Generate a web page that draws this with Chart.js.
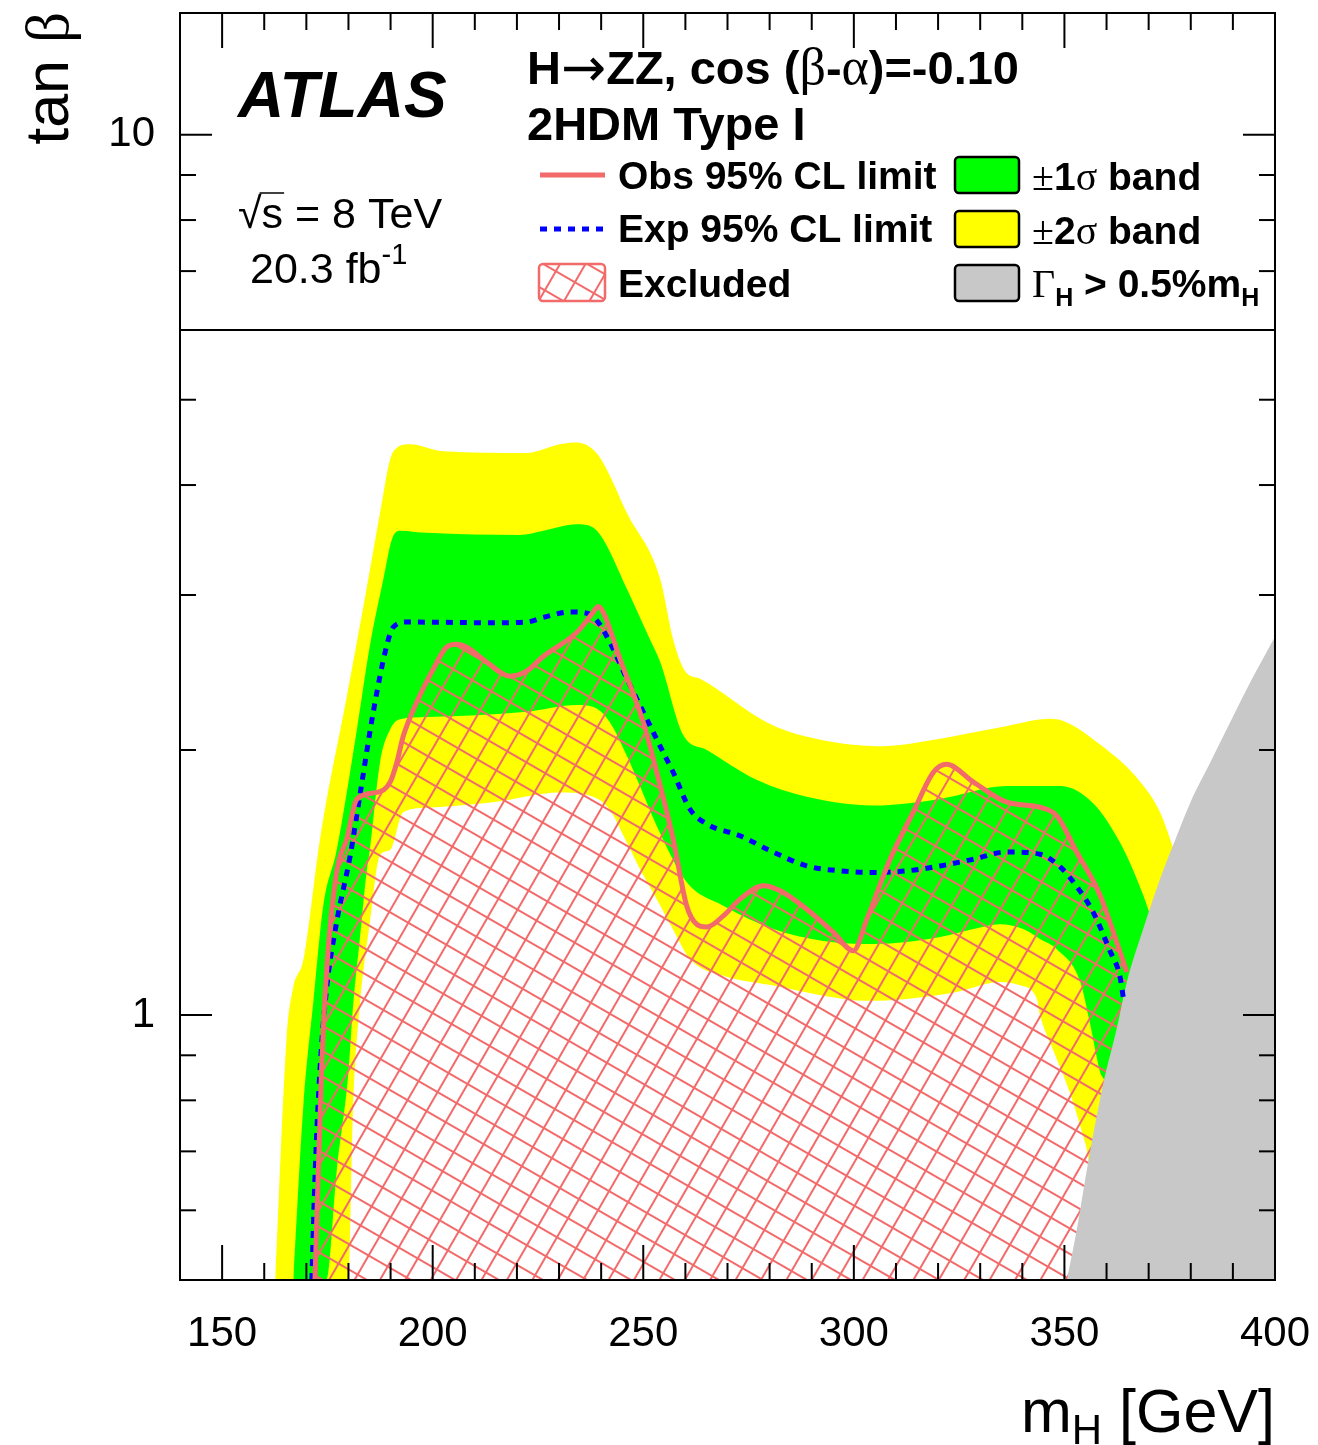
<!DOCTYPE html>
<html>
<head>
<meta charset="utf-8">
<title>H to ZZ, 2HDM Type I, tan beta limits</title>
<script src="https://cdn.jsdelivr.net/npm/chart.js@4.4.1/dist/chart.umd.min.js"></script>
<style>
  html, body { margin: 0; padding: 0; background: #ffffff; }
</style>
</head>
<body>
<canvas id="limit-chart" width="1318" height="1445"></canvas>
<script>
// =========================================================
// DATA
// x = mH in GeV, y = tan(beta).
// Each contour is kept as two arrays: masses and tan(beta).
// =========================================================
const OBS_MH = [172.05, 173.6, 174.8, 177.2, 179.6, 182.0, 186.7, 189.9, 191.5, 193.0, 196.2, 200.1, 203.3, 205.7, 208.1, 212.8, 218.4, 222.3, 226.3, 234.2, 238.1, 239.3, 240.5, 244.5, 250.0, 253.2, 257.1, 260.3, 262.7, 265.1, 269.0, 273.0, 278.5, 282.5, 288.8, 295.1, 299.9, 303.1, 308.6, 314.1, 318.9, 322.0, 328.4, 336.3, 344.2, 348.2, 352.9, 358.4, 362.4, 364.8];
const OBS_TANB = [0.5, 0.861, 1.119, 1.453, 1.584, 1.759, 1.79, 1.839, 1.937, 2.073, 2.266, 2.47, 2.617, 2.637, 2.617, 2.517, 2.426, 2.458, 2.556, 2.72, 2.867, 2.912, 2.867, 2.536, 2.15, 1.887, 1.584, 1.331, 1.268, 1.259, 1.296, 1.354, 1.402, 1.384, 1.319, 1.242, 1.183, 1.285, 1.503, 1.70, 1.887, 1.927, 1.839, 1.745, 1.722, 1.684, 1.532, 1.37, 1.21, 1.119];

const EXP_MH = [171.3, 172.1, 173.2, 174.8, 177.2, 180.4, 182.7, 185.9, 189.1, 190.6, 193.8, 214.4, 222.3, 226.3, 232.6, 236.6, 238.9, 242.1, 246.1, 250.0, 254.0, 257.1, 261.1, 265.1, 273.0, 280.9, 288.8, 296.7, 304.6, 312.6, 320.5, 328.4, 336.3, 344.2, 349.0, 352.9, 356.8, 360.8, 363.2, 364.0];
const EXP_TANB = [0.5, 0.664, 0.861, 1.07, 1.275, 1.516, 1.774, 2.21, 2.63, 2.757, 2.795, 2.79, 2.795, 2.83, 2.87, 2.86, 2.81, 2.65, 2.41, 2.21, 2.02, 1.887, 1.713, 1.648, 1.598, 1.531, 1.477, 1.458, 1.452, 1.458, 1.477, 1.503, 1.532, 1.523, 1.473, 1.40, 1.309, 1.183, 1.105, 1.045];

// +2 sigma / -2 sigma edges of the yellow band
const YELLOW_UP_MH = [162.6, 165.3, 166.8, 169.2, 170.1, 173.2, 179.6, 184.3, 187.5, 189.9, 191.5, 194.6, 202.4, 222.3, 230.2, 234.2, 238.9, 241.3, 246.1, 254.0, 257.1, 259.9, 263.5, 279.4, 288.9, 306.2, 320.5, 325.2, 336.4, 346.6, 350.6, 358.4, 367.2, 372.7, 375.8, 378.0];
const YELLOW_UP_TANB = [0.5, 0.94, 1.07, 1.15, 1.22, 1.58, 2.30, 3.05, 3.72, 4.28, 4.41, 4.45, 4.37, 4.35, 4.45, 4.47, 4.35, 4.17, 3.72, 3.13, 2.67, 2.46, 2.41, 2.15, 2.07, 2.02, 2.06, 2.08, 2.13, 2.17, 2.15, 2.03, 1.86, 1.70, 1.55, 1.45];
const YELLOW_LOW_MH = [162.6, 180.0, 181.1, 182.7, 185.1, 187.5, 189.9, 193.0, 198.6, 214.3, 230.2, 238.1, 242.1, 246.1, 249.2, 253.2, 257.1, 261.1, 269.0, 280.9, 292.7, 303.1, 312.6, 324.4, 334.7, 339.4, 343.4, 344.2, 347.3, 351.3, 354.4, 355.6, 358.0, 378.0];
const YELLOW_LOW_TANB = [0.5, 0.5, 0.79, 1.025, 1.275, 1.52, 1.54, 1.70, 1.72, 1.745, 1.79, 1.77, 1.71, 1.57, 1.465, 1.354, 1.25, 1.158, 1.108, 1.08, 1.052, 1.038, 1.043, 1.062, 1.09, 1.081, 1.045, 1.0, 0.913, 0.816, 0.729, 0.689, 0.5, 0.5];

// +1 sigma / -1 sigma edges of the green band
const GREEN_UP_MH = [166.9, 169.3, 171.7, 174.0, 177.2, 182.0, 185.1, 188.3, 190.3, 192.2, 198.6, 220.7, 226.3, 234.2, 238.1, 240.5, 246.1, 251.6, 254.0, 259.5, 265.1, 276.9, 288.8, 304.6, 320.5, 336.3, 344.9, 349.0, 356.8, 363.2, 367.9, 370.3, 373.0];
const GREEN_UP_TANB = [0.5, 0.79, 1.04, 1.33, 1.54, 2.11, 2.63, 3.13, 3.47, 3.55, 3.53, 3.51, 3.55, 3.61, 3.58, 3.47, 3.05, 2.67, 2.52, 2.08, 2.00, 1.85, 1.77, 1.73, 1.76, 1.82, 1.82, 1.82, 1.74, 1.57, 1.40, 1.30, 1.15];
const GREEN_LOW_MH = [166.9, 174.8, 177.2, 180.0, 181.1, 182.7, 184.3, 185.1, 187.5, 189.9, 192.2, 198.6, 222.3, 234.2, 238.9, 242.1, 246.1, 249.2, 253.2, 260.3, 269.0, 280.9, 292.7, 304.6, 320.5, 328.4, 334.7, 340.2, 344.2, 348.2, 353.7, 356.1, 358.4, 360.0, 363.0, 373.0];
const GREEN_LOW_TANB = [0.5, 0.5, 0.664, 0.861, 1.025, 1.22, 1.453, 1.543, 1.937, 2.11, 2.167, 2.18, 2.21, 2.25, 2.23, 2.15, 1.97, 1.82, 1.64, 1.416, 1.331, 1.252, 1.214, 1.204, 1.226, 1.252, 1.268, 1.252, 1.22, 1.188, 1.093, 0.977, 0.864, 0.816, 0.5, 0.5];

// edge of the region where Gamma_H > 0.5% mH (grey, bottom right)
const WIDTH_MH = [350.6, 352.9, 355.3, 359.2, 362.4, 364.8, 368.7, 372.7, 376.7, 380.6, 384.6, 388.5, 394.1, 400.0];
const WIDTH_TANB = [0.5, 0.569, 0.666, 0.835, 0.964, 1.089, 1.252, 1.427, 1.598, 1.774, 1.935, 2.11, 2.386, 2.69];

// axes
const MH_RANGE = [140, 400];
const TANB_RANGE = [0.5, 13.75];
const X_TICK_LABELS = [150, 200, 250, 300, 350, 400];
const Y_TICK_LABELS = [1, 10];
const Y_MINOR_TICKS = [0.6, 0.7, 0.8, 0.9, 2, 3, 4, 5, 6, 7, 8, 9];
const LEGEND_SPLIT_TANB = 6;

// =========================================================
// STYLE
// =========================================================
const SANS = '"Liberation Sans", Arial, Helvetica, sans-serif';
const SERIF = '"Liberation Serif", "DejaVu Serif", serif';
const GREEN = "#00ff00";
const YELLOW = "#ffff00";
const GREY = "#c8c8c8";
const RED = "#f26a6a";
const BLUE = "#0000ff";
const HATCH_STEP = 22;

const canvas = document.getElementById("limit-chart");

// cross-hatch used for the "Excluded" region: a small grid tile,
// turned by 30 degrees so the lines run at 60 and -30 degrees
function makeHatch() {
  const tile = document.createElement("canvas");
  tile.width = HATCH_STEP;
  tile.height = HATCH_STEP;
  const t = tile.getContext("2d");
  t.fillStyle = RED;
  t.fillRect(0, 0, HATCH_STEP, 2);
  t.fillRect(0, 0, 2, HATCH_STEP);
  const pattern = canvas.getContext("2d").createPattern(tile, "repeat");
  pattern.setTransform(new DOMMatrix().rotate(30));
  return pattern;
}
const hatch = makeHatch();

function toPoints(masses, values) {
  return masses.map((m, i) => ({ x: m, y: values[i] }));
}

// =========================================================
// HELPERS for text made of several pieces (sub/superscripts,
// greek letters in a serif face)
// =========================================================
function piecesWidth(ctx, pieces) {
  let w = 0;
  pieces.forEach((p) => {
    ctx.font = p.font;
    w += ctx.measureText(p.text).width;
  });
  return w;
}

function drawPieces(ctx, pieces, x, y) {
  pieces.forEach((p) => {
    ctx.font = p.font;
    ctx.fillText(p.text, x, y + (p.dy || 0));
    x += ctx.measureText(p.text).width;
  });
  return x;
}

function line(ctx, x1, y1, x2, y2) {
  ctx.beginPath();
  ctx.moveTo(x1, y1);
  ctx.lineTo(x2, y2);
  ctx.stroke();
}

function box(ctx, x, y, w, h, fill, stroke) {
  ctx.beginPath();
  ctx.roundRect(x, y, w, h, 4);
  ctx.fillStyle = fill;
  ctx.fill();
  ctx.lineWidth = 2.5;
  ctx.strokeStyle = stroke;
  ctx.stroke();
}

// scales reserve room for half a label at their ends; the frame
// here is fixed by the figure, so drop that
function fixScaleBox(scale, size) {
  if (scale.isHorizontal()) {
    scale.height = size;
  } else {
    scale.width = size;
  }
  scale.paddingTop = 0;
  scale.paddingBottom = 0;
  scale.paddingLeft = 0;
  scale.paddingRight = 0;
}

// =========================================================
// PLUGIN: ROOT style frame, inward ticks, legend and labels
// =========================================================
const atlasDecorations = {
  id: "atlasDecorations",
  afterDatasetsDraw(chart) {
    const ctx = chart.ctx;
    const area = chart.chartArea;
    const xs = chart.scales.x;
    const ys = chart.scales.y;

    ctx.save();
    ctx.strokeStyle = "#000000";
    ctx.lineWidth = 2;

    // line closing off the legend part of the frame
    const split = ys.getPixelForValue(LEGEND_SPLIT_TANB);
    line(ctx, area.left, split, area.right, split);

    // x ticks every 10 GeV, long ones at the labels
    for (let m = MH_RANGE[0]; m <= MH_RANGE[1]; m += 10) {
      const px = xs.getPixelForValue(m);
      const len = X_TICK_LABELS.includes(m) ? 35 : 17;
      line(ctx, px, area.bottom, px, area.bottom - len);
      line(ctx, px, area.top, px, area.top + len);
    }

    // y ticks
    Y_TICK_LABELS.forEach((v) => {
      const py = ys.getPixelForValue(v);
      line(ctx, area.left, py, area.left + 32, py);
      line(ctx, area.right, py, area.right - 32, py);
    });
    Y_MINOR_TICKS.forEach((v) => {
      const py = ys.getPixelForValue(v);
      line(ctx, area.left, py, area.left + 16, py);
      line(ctx, area.right, py, area.right - 16, py);
    });

    ctx.strokeRect(area.left, area.top, area.right - area.left, area.bottom - area.top);
    ctx.restore();
  },

  afterDraw(chart) {
    const ctx = chart.ctx;
    const area = chart.chartArea;
    ctx.save();
    ctx.fillStyle = "#000000";
    ctx.textAlign = "left";
    ctx.textBaseline = "alphabetic";

    // axis titles
    const xTitle = [
      { text: "m", font: `61px ${SANS}` },
      { text: "H", font: `42px ${SANS}`, dy: 12 },
      { text: " [GeV]", font: `61px ${SANS}` },
    ];
    drawPieces(ctx, xTitle, area.right - piecesWidth(ctx, xTitle), 1432);

    const yTitle = [
      { text: "tan ", font: `61px ${SANS}` },
      { text: "β", font: `61px ${SERIF}` },
    ];
    ctx.save();
    ctx.translate(68, area.top - 1);
    ctx.rotate(-Math.PI / 2);
    drawPieces(ctx, yTitle, -piecesWidth(ctx, yTitle), 0);
    ctx.restore();

    // ATLAS label and run conditions
    ctx.font = `italic bold 64px ${SANS}`;
    ctx.fillText("ATLAS", 238, 117);

    const sqrtEnd = drawPieces(ctx, [{ text: "√", font: `43px ${SANS}` }], 238, 228);
    const sEnd = drawPieces(ctx, [{ text: "s", font: `43px ${SANS}` }], sqrtEnd, 228);
    drawPieces(ctx, [{ text: " = 8 TeV", font: `43px ${SANS}` }], sEnd, 228);
    ctx.lineWidth = 1.5;
    ctx.strokeStyle = "#000000";
    line(ctx, sqrtEnd - 2, 193, sEnd + 1, 193);

    drawPieces(ctx, [
      { text: "20.3 fb", font: `43px ${SANS}` },
      { text: "-1", font: `29px ${SANS}`, dy: -19 },
    ], 250, 283);

    // process / model
    drawPieces(ctx, [
      { text: "H", font: `bold 47px ${SANS}` },
      { text: "→", font: `54px "DejaVu Sans", ${SERIF}`, dy: 2 },
      { text: "ZZ, cos (", font: `bold 47px ${SANS}` },
      { text: "β", font: `52px ${SERIF}` },
      { text: "-", font: `bold 47px ${SANS}` },
      { text: "α", font: `52px ${SERIF}` },
      { text: ")=-0.10", font: `bold 47px ${SANS}` },
    ], 527, 84);
    ctx.font = `bold 47px ${SANS}`;
    ctx.fillText("2HDM Type I", 527, 140);

    // legend, left column
    const legFont = `bold 39px ${SANS}`;
    ctx.lineCap = "butt";
    ctx.strokeStyle = RED;
    ctx.lineWidth = 5;
    line(ctx, 540, 175, 605, 175);
    ctx.strokeStyle = BLUE;
    ctx.setLineDash([7, 7]);
    line(ctx, 540, 229, 605, 229);
    ctx.setLineDash([]);
    box(ctx, 539, 264, 66, 37, hatch, RED);

    ctx.fillStyle = "#000000";
    ctx.font = legFont;
    ctx.fillText("Obs 95% CL limit", 618, 189);
    ctx.fillText("Exp 95% CL limit", 618, 242);
    ctx.fillText("Excluded", 618, 297);

    // legend, right column
    box(ctx, 955, 157, 64, 36, GREEN, "#000000");
    box(ctx, 955, 211, 64, 36, YELLOW, "#000000");
    box(ctx, 955, 265, 64, 36, GREY, "#000000");

    ctx.fillStyle = "#000000";
    drawPieces(ctx, [
      { text: "±", font: `40px ${SERIF}` },
      { text: "1", font: legFont },
      { text: "σ", font: `40px ${SERIF}` },
      { text: " band", font: legFont },
    ], 1032, 190);
    drawPieces(ctx, [
      { text: "±", font: `40px ${SERIF}` },
      { text: "2", font: legFont },
      { text: "σ", font: `40px ${SERIF}` },
      { text: " band", font: legFont },
    ], 1032, 244);
    drawPieces(ctx, [
      { text: "Γ", font: `40px ${SERIF}` },
      { text: "H", font: `bold 25px ${SANS}`, dy: 9 },
      { text: " > 0.5%m", font: legFont },
      { text: "H", font: `bold 25px ${SANS}`, dy: 9 },
    ], 1032, 297);

    ctx.restore();
  },
};

// =========================================================
// CHART
// Datasets with a higher "order" are drawn first (underneath).
// =========================================================
const limitChart = new Chart(canvas, {
  type: "line",
  data: {
    datasets: [
      { label: "+2 sigma", data: toPoints(YELLOW_UP_MH, YELLOW_UP_TANB), fill: 1, backgroundColor: YELLOW, borderWidth: 0, order: 60 },
      { label: "-2 sigma", data: toPoints(YELLOW_LOW_MH, YELLOW_LOW_TANB), fill: false, borderWidth: 0, order: 59 },
      { label: "+1 sigma", data: toPoints(GREEN_UP_MH, GREEN_UP_TANB), fill: 3, backgroundColor: GREEN, borderWidth: 0, order: 50 },
      { label: "-1 sigma", data: toPoints(GREEN_LOW_MH, GREEN_LOW_TANB), fill: false, borderWidth: 0, order: 49 },
      { label: "Excluded", data: toPoints(OBS_MH, OBS_TANB), fill: "start", backgroundColor: hatch, borderWidth: 0, order: 40 },
      { label: "Width > 0.5% mH", data: toPoints(WIDTH_MH, WIDTH_TANB), fill: "start", backgroundColor: GREY, borderWidth: 0, order: 30 },
      { label: "Exp 95% CL limit", data: toPoints(EXP_MH, EXP_TANB), fill: false, borderColor: BLUE, borderWidth: 5, borderDash: [7, 7], order: 20 },
      { label: "Obs 95% CL limit", data: toPoints(OBS_MH, OBS_TANB), fill: false, borderColor: RED, borderWidth: 5, order: 10 },
    ],
  },
  options: {
    responsive: false,
    animation: false,
    devicePixelRatio: 1,
    elements: {
      point: { radius: 0, hoverRadius: 0 },
      line: { cubicInterpolationMode: "monotone", borderJoinStyle: "round" },
    },
    layout: { padding: { top: 13, right: 43, left: 0, bottom: 0 } },
    plugins: {
      legend: { display: false },
      tooltip: { enabled: false },
    },
    scales: {
      x: {
        type: "linear",
        min: MH_RANGE[0],
        max: MH_RANGE[1],
        grid: { display: false, drawTicks: false },
        border: { display: false },
        afterFit: (scale) => fixScaleBox(scale, 165),
        afterBuildTicks: (scale) => { scale.ticks = X_TICK_LABELS.map((v) => ({ value: v })); },
        ticks: {
          maxRotation: 0,
          autoSkip: false,
          padding: 29,
          color: "#000000",
          font: { family: SANS, size: 42 },
          callback: (value) => String(value),
        },
      },
      y: {
        type: "logarithmic",
        min: TANB_RANGE[0],
        max: TANB_RANGE[1],
        grid: { display: false, drawTicks: false },
        border: { display: false },
        afterFit: (scale) => fixScaleBox(scale, 180),
        afterBuildTicks: (scale) => { scale.ticks = Y_TICK_LABELS.map((v) => ({ value: v, major: true })); },
        ticks: {
          autoSkip: false,
          padding: 25,
          color: "#000000",
          font: { family: SANS, size: 42 },
          callback: (value) => String(value),
        },
      },
    },
  },
  plugins: [atlasDecorations],
});
</script>
</body>
</html>
